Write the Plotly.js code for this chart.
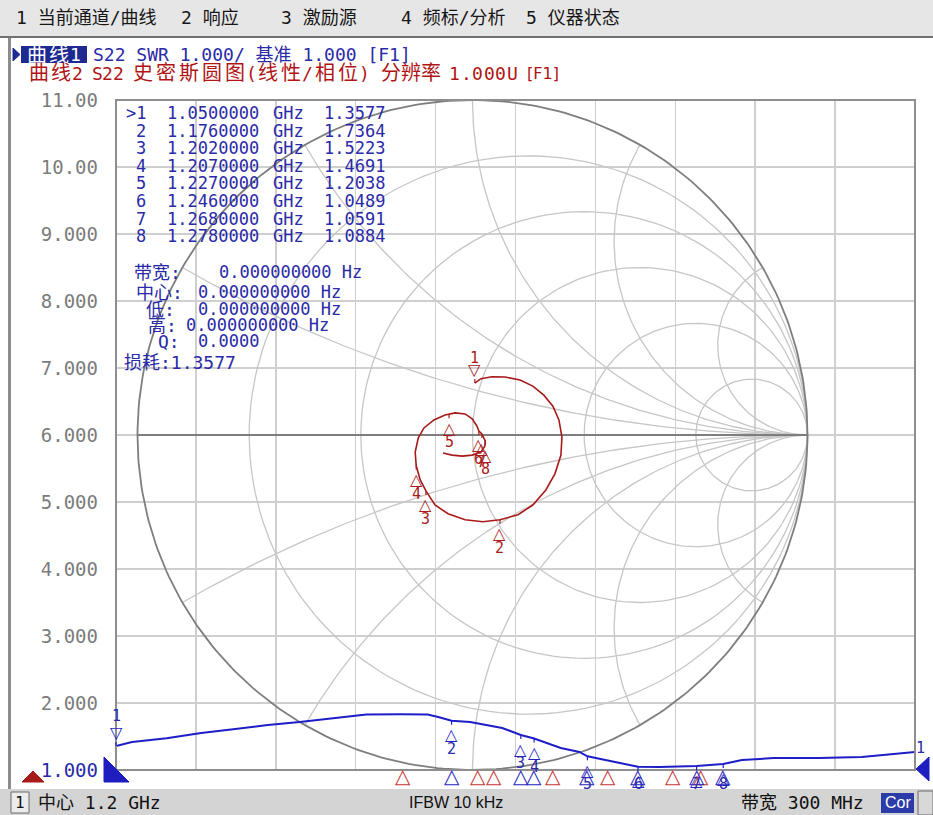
<!DOCTYPE html>
<html><head><meta charset="utf-8">
<script src="https://cdn.plot.ly/plotly-3.0.1.min.js"></script>
<style>html,body{margin:0;padding:0;background:#fff;}#chart{width:933px;height:815px;}</style>
</head><body><div id="chart"></div>
<script>
// ---------------- DATA ----------------
const swrFreqGHz = [1.050,1.056,1.069,1.082,1.094,1.107,1.119,1.132,1.144,1.157,1.167,1.171,1.176,1.183,1.195,1.202,1.207,1.217,1.224,1.227,1.239,1.246,1.254,1.262,1.268,1.278,1.285,1.297,1.314,1.330,1.342,1.350];
const swrValues  = [1.358,1.418,1.473,1.552,1.607,1.672,1.716,1.776,1.828,1.831,1.828,1.790,1.736,1.716,1.627,1.522,1.469,1.328,1.269,1.204,1.104,1.049,1.046,1.052,1.059,1.088,1.149,1.179,1.179,1.194,1.239,1.269];

const markerIds     = [1,2,3,4,5,6,7,8];
const markerFreqGHz = [1.050,1.176,1.202,1.207,1.227,1.246,1.268,1.278];
const markerSWR     = [1.3577,1.7364,1.5223,1.4691,1.2038,1.0489,1.0591,1.0884];

// Smith chart trace (reflection coefficient, real / imaginary)
const smithRe = [0.007,0.025,0.058,0.097,0.142,0.180,0.213,0.240,0.258,0.267,0.264,0.246,0.219,0.180,0.136,0.082,0.031,-0.022,-0.073,-0.112,-0.139,-0.156,-0.168,-0.171,-0.162,-0.145,-0.115,-0.082,-0.052,-0.022,-0.001,0.013,0.019,0.028,0.038,0.037,0.025,-0.001,-0.031,-0.061,-0.088];
const smithIm = [0.155,0.168,0.174,0.173,0.164,0.146,0.119,0.086,0.045,-0.006,-0.060,-0.116,-0.164,-0.209,-0.238,-0.253,-0.259,-0.253,-0.235,-0.209,-0.167,-0.134,-0.092,-0.051,-0.009,0.021,0.045,0.060,0.066,0.063,0.048,0.027,0.012,0.003,-0.018,-0.033,-0.051,-0.060,-0.063,-0.060,-0.054];
const smithMarkerRe = [0.007,0.082,-0.139,-0.168,-0.070,0.019,0.028,0.038];
const smithMarkerIm = [0.155,-0.253,-0.167,-0.092,0.062,0.012,0.003,-0.018];

// stimulus indicators for trace 2 along the bottom edge (GHz)
const trace2IndicatorGHz = [1.1578,1.1859,1.1919,1.2141,1.2347,1.2591,1.2697];

const yTickVals = [1,2,3,4,5,6,7,8,9,10,11];
const yTickText = ['1.000','2.000','3.000','4.000','5.000','6.000','7.000','8.000','9.000','10.00','11.00'];

const resistanceCircles = [0.2,0.5,1,2,5];
const reactanceArcs = [0.268,0.577,1,1.732,3.732];

const bwLabels = ['带宽:','中心:','低:','高:','Q:'];
const bwValues = ['0.000000000 Hz','0.000000000 Hz','0.000000000 Hz','0.000000000 Hz','0.0000'];
const lossText = '损耗:1.3577';

// ---------------- STYLE / GEOMETRY ----------------
const L=116, R=915, T=100, B=770;
const PX = x => (x - L)/(R - L);
const PY = y => (B - y)/(B - T);
const CX = 472.5, G = 335;        // smith centre (px) and px per unit gamma
const SWR_PX = (B - T)/10;        // px per SWR unit
const MONO = 'DejaVu Sans Mono, Noto Sans CJK SC, monospace';
const SYM = 'DejaVu Sans, sans-serif';
const BLUE_TXT = '#2a2aa8', BLUE_LINE = '#1e1ec6', RED = '#a81a1a', GRAY_TXT = '#7c7c7c';

// smith grid geometry
function arc(cx, cy, r, a0, a1, n, xs, ys, flip) {
  for (let i = 0; i <= n; i++) {
    const a = a0 + (a1 - a0) * i / n;
    xs.push(cx + r * Math.cos(a));
    ys.push(flip * (cy + r * Math.sin(a)));
  }
  xs.push(null); ys.push(null);
}
const gx = [], gy = [];
resistanceCircles.forEach(r => arc(r/(1+r), 0, 1/(1+r), 0, 2*Math.PI, 180, gx, gy, 1));
reactanceArcs.forEach(x => {
  const phi = Math.atan2((x*x-1)/(x*(x*x+1)), -2/(x*x+1));
  const end = phi > -Math.PI/2 ? phi - 2*Math.PI : phi;
  [1,-1].forEach(s => arc(1, 1/x, 1/x, -Math.PI/2, end, 160, gx, gy, s));
});
const ux = [], uy = [];
arc(0, 0, 1, 0, 2*Math.PI, 360, ux, uy, 1);
ux.push(-1, 1); uy.push(0, 0);

const traces = [
  {x: gx, y: gy, xaxis:'x', yaxis:'y', mode:'lines', line:{color:'#c6c6c6', width:1.3}, hoverinfo:'skip'},
  {x: ux, y: uy, xaxis:'x', yaxis:'y', mode:'lines', line:{color:'#7e7e7e', width:1.8}, hoverinfo:'skip'},
  {x: smithRe, y: smithIm, xaxis:'x', yaxis:'y', mode:'lines', line:{color:RED, width:1.6}, hoverinfo:'skip'},
  {x: swrFreqGHz, y: swrValues, xaxis:'x2', yaxis:'y2', mode:'lines', line:{color:BLUE_LINE, width:2}, hoverinfo:'skip'}
];

// ---------------- ANNOTATIONS ----------------
const ann = [];
function txt(text, x, y, o) {
  o = o || {};
  ann.push({text, xref:'paper', yref:'paper', x:PX(x), y:PY(y), xanchor:o.xanchor || 'left', yanchor:'middle',
    showarrow:false, font:{family:o.family || MONO, size:o.size || 17, color:o.color || BLUE_TXT}, borderpad:0});
}
// a run of characters on a fixed pitch (wide CJK cells, narrow latin cells)
function run(str, x0, y, color, pitchC, pitchL) {
  let x = x0;
  for (const ch of str) {
    const cjk = ch.charCodeAt(0) > 0x2E80;
    if (ch !== ' ') txt(ch, x + (cjk ? pitchC : pitchL) / 2, y, {xanchor:'center', size: cjk ? 20 : 18, color});
    x += cjk ? pitchC : pitchL;
  }
}
// marker glyph with a short stem to the trace point
function markerGlyph(xref, yref, x, y, active, color) {
  ann.push({xref, yref, x, y, text: active ? '▽' : '△', showarrow:true, ax:0, ay: active ? -14 : 14,
    arrowhead:0, arrowwidth:1.2, arrowcolor:color, standoff:0, borderpad:0,
    font:{family:SYM, size:16, color}});
}
// menu bar
const menuItems = ['1 当前通道/曲线','2 响应','3 激励源','4 频标/分析','5 仪器状态'];
const menuX = [15,180,280,400,525];
menuItems.forEach((m,i) => txt(m, menuX[i], 18, {size:18, color:'#161616'}));
// header lines
run('曲线1', 26, 55, '#ffffff', 22, 11);
txt('S22 SWR 1.000/ 基准 1.000 [F1]', 92, 55, {size:18});
const hdr2 = ['曲线2','S22','史密斯圆图(线性/相位)','分辨率','1.000U'];
const hdr2X = [28,92,131,381,449];
const hdr2PitchC = [22,22,23,20,20];
const hdr2PitchL = [11,10.5,10.5,10.5,11.5];
hdr2.forEach((t,i) => run(t, hdr2X[i], 73, '#b01414', hdr2PitchC[i], hdr2PitchL[i]));
txt('[F1]', 526, 73, {size:16, color:'#b01414', family:SYM});
// marker table
const rowY0 = 113, rowDY = 17.6;
markerIds.forEach((id,i) => {
  const y = rowY0 + i*rowDY;
  txt(i === 0 ? '>' + id : String(id), 147, y, {xanchor:'right'});
  txt(markerFreqGHz[i].toFixed(7), 166, y);
  txt('GHz', 272, y);
  txt(markerSWR[i].toFixed(4), 323, y);
});
// bandwidth block
const bwLabelX = [133,135,145,147,157], bwValX = [218,197,197,185,197], bwY = [272,292,309,325,341];
bwLabels.forEach((l,i) => { txt(l, bwLabelX[i], bwY[i], {size:18}); txt(bwValues[i], bwValX[i], bwY[i]); });
txt(lossText, 123, 362, {size:18});
// trace markers and their numbers
markerIds.forEach((id,i) => {
  markerGlyph('x', 'y', smithMarkerRe[i], smithMarkerIm[i], i === 0, RED);
  ann.push({text:String(id), xref:'x', yref:'y', x:smithMarkerRe[i], y:smithMarkerIm[i], yshift: i === 0 ? 25 : -28,
    showarrow:false, font:{family:MONO, size:15, color:RED}});
  markerGlyph('x2', 'y2', markerFreqGHz[i], markerSWR[i], i === 0, BLUE_LINE);
  const ptPx = B - (markerSWR[i] - 1) * SWR_PX;
  const down = Math.min(28, 784 - ptPx);
  ann.push({text:String(id), xref:'x2', yref:'y2', x:markerFreqGHz[i], y:markerSWR[i], yshift: i === 0 ? 30 : -down,
    showarrow:false, font:{family:MONO, size:15, color:BLUE_TXT}});
});
// bottom stimulus indicators
trace2IndicatorGHz.forEach(f => ann.push({text:'△', xref:'x2', yref:'paper', x:f, y:PY(776), yanchor:'middle',
  showarrow:false, font:{family:SYM, size:20, color:'#c83a3a'}}));
markerFreqGHz.slice(1).forEach(f => ann.push({text:'△', xref:'x2', yref:'paper', x:f, y:PY(776), yanchor:'middle',
  showarrow:false, font:{family:SYM, size:20, color:'#2a2ac0'}}));
txt('1', 920, 748, {xanchor:'center', size:15});
// status bar
txt('1', 20, 803, {xanchor:'center', size:16, color:'#111'});
txt('中心 1.2 GHz', 37, 803, {size:18, color:'#111'});
txt('IFBW 10 kHz', 456, 803, {xanchor:'center', size:16, color:'#111', family:'Liberation Sans, Arial, sans-serif'});
txt('带宽 300 MHz', 740, 803, {size:18, color:'#111'});
txt('Cor', 897.5, 803, {xanchor:'center', size:16, color:'#ffffff', family:'Liberation Sans, Arial, sans-serif'});

// ---------------- SHAPES ----------------
function rect(x0,y0,x1,y1,fill,line,lw,layer) {
  return {type:'rect', xref:'paper', yref:'paper', x0:PX(x0), x1:PX(x1), y0:PY(y1), y1:PY(y0),
    fillcolor:fill, line:{color:line || fill, width:lw || 0}, layer:layer || 'below'};
}
function poly(pts, fill) {
  return {type:'path', xref:'paper', yref:'paper', path:'M' + pts.map(p => PX(p[0]) + ',' + PY(p[1])).join(' L') + ' Z',
    fillcolor:fill, line:{color:fill, width:1}, layer:'above'};
}
const shapes = [
  rect(0,0,933,36,'#e6e6e6'),
  {type:'line', xref:'paper', yref:'paper', x0:PX(0), x1:PX(933), y0:PY(37), y1:PY(37), line:{color:'#707070', width:2}},
  rect(8,38,11,789,'#8c8c8c'),
  rect(21,46,87,63,'#1e2a92'),
  rect(0,789,933,815,'#d4d4d4'),
  rect(11,792,29,813,'#ececec','#6a6a6a',1),
  rect(881,793,914,813,'#2b3ca8'),
  rect(918,791,933,815,'#d8d8d8','#6a6a6a',1),
  {type:'rect', xref:'paper', yref:'paper', x0:0, x1:1, y0:0, y1:1, line:{color:'#8e8e8e', width:2}, layer:'above'},
  poly([[13,48],[20,54.5],[13,61]], '#1e2a92'),
  poly([[104,757],[104,782],[129,782]], '#1e1ec0'),
  poly([[929,757],[916,769],[929,781]], '#1e1ec0'),
  poly([[22,782],[33,771],[44,782]], '#a81a1a')
];

const layout = {
  width:933, height:815, margin:{l:116, r:18, t:100, b:45, pad:0},
  paper_bgcolor:'#ffffff', plot_bgcolor:'#ffffff', showlegend:false,
  xaxis:{range:[(L-CX)/G, (R-CX)/G], visible:false, fixedrange:true},
  yaxis:{range:[-1,1], visible:false, fixedrange:true},
  xaxis2:{overlaying:'x', range:[1.05,1.35], tick0:1.05, dtick:0.03, showgrid:true, gridcolor:'#cfcfcf', gridwidth:1.5,
    showticklabels:false, ticks:'', zeroline:false, showline:false, fixedrange:true},
  yaxis2:{overlaying:'y', side:'left', range:[1,11], tickmode:'array', tickvals:yTickVals,
    ticktext:yTickText.map((t,i) => i === 0 ? '<span style="color:' + BLUE_TXT + '">' + t + '</span>' : t),
    showgrid:true, gridcolor:'#cfcfcf', gridwidth:1.5, zeroline:false, ticks:'', showline:false,
    ticklabelstandoff:17, tickfont:{family:MONO, size:19, color:GRAY_TXT}, fixedrange:true},
  shapes, annotations:ann
};
Plotly.newPlot('chart', traces, layout, {staticPlot:true, displayModeBar:false});
</script></body></html>
